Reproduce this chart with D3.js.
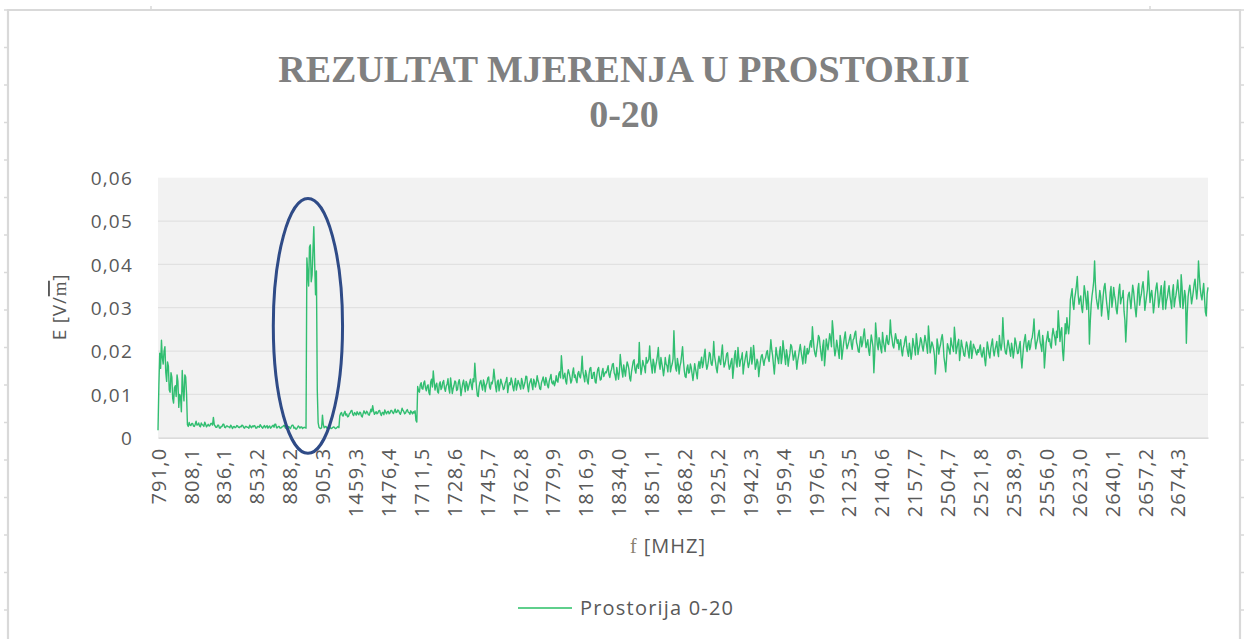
<!DOCTYPE html>
<html><head><meta charset="utf-8">
<script src="https://cdn.jsdelivr.net/npm/d3@7"></script>
<style>body{margin:0;background:#fff}svg{display:block}</style>
</head><body><svg id="c" width="1244" height="639"></svg>
<script>
// ---- data ----
const titleLines = ["REZULTAT MJERENJA U PROSTORIJI", "0-20"];
const seriesName = "Prostorija 0-20";
const tickLabels = ["791,0","808,1","836,1","853,2","888,2","905,3","1459,3","1476,4","1711,5","1728,6","1745,7","1762,8","1779,9","1816,9","1834,0","1851,1","1868,2","1925,2","1942,3","1959,4","1976,5","2123,5","2140,6","2157,7","2504,7","2521,8","2538,9","2556,0","2623,0","2640,1","2657,2","2674,3"];
const pointsPerTick = 38;   // measurement points between two labelled categories
const stepMHz = 0.45;
const yTicks = [0, 0.01, 0.02, 0.03, 0.04, 0.05, 0.06];
// E values in units of 0.0001 V/m
const segA = [17,120,195,160,225,185,170,200,210,150,
  130,175,165,110,105,150,140,90,80,115,
  120,95,145,130,70,100,95,60,155,110,
  85,145,140,100];
const segB = [30,26,35,29,28,33,33,27,26,31, 38,29,30,34,27,25,34,30,29,26,
  36,31,25,28,31,27,28,33,33,29, 47,30,27,24,24,29,29,22,22,26,
  26,31,31,24,23,27,27,25,25,23, 29,26,21,25,26,23,24,28,27,24,
  23,26,25,29,28,23,22,26,26,24, 24,22,29,25,23,27,25,28,27,22,
  22,26,26,24,30,27,24,22,26,28, 23,25,28,22,25,27,22,24,27,29,
  24,31,31,23,23,26,26,22,22,25, 25,28,28,23,21,24,24,26,23,21,
  26,29,29,22,24,20,20,23,27,25, 22,25,25,21,23,24,23,22];
const segC = [415,380,350,440,445,360,375,430,487,400,330,385,110,35];
const segD = [24,22,21,23,52,30,23,25,26,22,22,24,25,23,21,22,24,25,23,21,22,24,26,23];
const segE = [50,56,58,51,50,57,61,52,55,48, 49,55,57,62,63,54,51,58,56,52,
  60,55,53,59,58,50,48,56,62,57, 55,61,59,53,52,58,66,60,74,62,
  54,57,60,55,57,62,63,56,51,58, 58,53,64,59,55,60,61,55,57,63,
  63,58,56,61,66,58,59,64,62,57, 54,60,68,63,60,55,57,62,65,59,
  58,54,62,59,55,60,57,62,40,36];
const segF = [118,108,105,122,127,113,112,126,131,115, 108,119,122,104,99,128,135,117,154,130,
  110,121,126,106,103,124,129,111,116,128, 132,114,107,119,124,136,113,103,138,120,
  102,113,121,131,128,109,111,127,134,120, 97,112,125,133,118,106,130,124,109,118,
  127,135,120,111,136,129,172,141,115,97, 95,118,128,132,119,110,133,125,106,121,
  126,138,140,117,112,128,124,134,158,139, 117,106,129,133,108,120,135,127,121,111,
  114,125,131,139,104,118,127,122,138,130, 116,108,125,137,110,121,132,126,119,112,
  137,129,113,120,128,142,141,119,106,124, 130,136,122,111,135,129,117,126,143,132,
  125,113,111,127,133,140,128,121,139,130, 120,115,131,138,146,127,124,131,120,127];
const segG = [143,131,128,147,152,138,189,162,136,141, 149,130,124,146,157,149,140,126,132,151,
  161,139,145,133,127,148,153,142,138,155, 188,150,141,129,155,146,130,124,148,160,
  162,137,137,150,151,129,126,145,158,162, 144,133,135,152,160,141,147,152];
const segH = [150,158,166,145,139,152,158,170,171,150, 144,133,162,149,135,152,192,171,153,140,
  168,155,142,161,175,168,158,137,131,152, 164,176,180,157,149,166,170,160,220,171,
  146,159,178,169,163,150,185,172,176,181];
const segI = [212,180,165,149,181,172,150,166,176,190, 208,171,158,185,172,160,143,159,185,170,
  166,152,178,191,152,163,170,182,247,189, 161,154,183,170,147,165,174,192,210,177,
  155,141,139,160,168,149,151,170,162,147, 132,150,171,158,148,136,165,176];
const segJ = [160,175,186,162,171,190,204,173,158,166, 179,197,193,171,167,182,222,188,175,160,
  150,172,188,176,169,195,214,181,163,170, 181,194,196,171,158,164,176,183,137,159,
  189,201,172,163,208,185,165,178,184,196, 147,166,178,190,199,175,162,171,186,208,
  170,182,213,191,158,166,181,174,141,160, 176,189,192,178,167,180];
const segK = [185,197,201,183,176,199,226,204,190,168, 147,175,208,193,182,171,198,210,171,186,
  224,205,187,169,203,190,165,182,194,215, 211,196,179,188,200,184,158,177,189,203,
  215,198,184,170,197,211,172,189,206,193];
const segL = [198,214,224,209,256,228,205,193,187,204, 219,236,231,210,193,178,212,225,166,190,
  228,215,203,221,240,229,210,270,248,210, 189,201,225,212,198,183,236,222,181,199,
  217,232,244,219,205,213];
const segM = [221,230,238,214,204,226,229,241,246,220, 212,199,197,222,233,210,219,237,251,226,
  208,217,226,201,190,215,237,224,209,150, 192,265,238,214,203,231,222,205,196,243,
  222,210,199,225,236,218,215,230,272,241, 228,212,207,224,240,229,218,226];
const segN = [203,218,226,201,189,207,214,228,234,210, 197,188,218,203,181,195,229,216,206,191,
  240,222,192,205,215,231,224,209,200,218, 236,224,211,195,258,232,196,208,221,214,
  205,190,147,172,228,215,193,207,215,229, 238,220,186,171,152,183,217,209,201,193,
  230,216,208,199,255,231,194,206,219,227, 178,196,225,213,203,190,188,207,221,212,
  197,184,212,223,183,198,216,209,205,196, 191,203];
const segO = [197,206,214,193,186,199,208,181,166,192, 221,209,193,184,205,217,228,201,189,203,
  212,222,198,187,236,215,202,219,277,233, 209,196,193,211,225,214,201,188,218,206,
  184,199,230,221,207,194,196,212,222,185, 161,188,213,227,238,210,199,218,224,203,
  210,226,232,248,274,229,205,218,226,239, 248,221,212,199,236,219,161,190,219,231,
  245,222,228,213,207,236,252,240,231,214, 246,231,293,258,222,244,254,201,178,215,
  263,240,277,255,240,262];
const segP = [318,331,344,309,296,322,335,351,372,330, 308,319,327,301,289,315,351,337,316,296,
  338,309,216,268,305,327,342,361,408,352, 322,309,297,318,340,326,281,303,329,348,
  356,331,310,292,273,301,334,349,301,318, 347,329,318,296,286,312,339,354,309,321,
  325,340,292,271,221,263,314,330,336,317, 298,325,352,339,317,296,279,308,343,356,
  306,322,331,349,360,337,294,310,326,341, 385,352,312,330,340,318,288,306,329,347,
  357,334,301,315,335,351,318,296,346,361, 297,315,324,339,351,328,313,298,338,353,
  302,318,329,344,364,340,317,301,376,349, 298,315,340,326,218,287,325,341,352,333,
  309,322,337,355,366,341,320,345,408,372, 345,328,318,337,356,322,290,281,332,347];
// highlighted region (ellipse) in data units: category index and E range
const highlight = {fromIdx: 133.2, toIdx: 213.2, minE: -0.0036, maxE: 0.0552};

const values = [].concat(segA,segB,segC,segD,segE,segF,segG,segH,segI,segJ,segK,segL,segM,segN,segO,segP).map(v => v / 10000);

// categories (frequency labels) for every measurement point
const categories = [];
tickLabels.forEach((lab, i) => {
  const f = +lab.replace(",", ".");
  const n = i < tickLabels.length - 1 ? pointsPerTick : values.length - i * pointsPerTick;
  for (let j = 0; j < n; j++) categories.push(j === 0 ? lab : (f + j * stepMHz).toFixed(2).replace(".", ","));
});

// ---- drawing ----
const svg = d3.select("#c");
const W = 1244, H = 639;
const plot = {left: 158, right: 1208, top: 177.7, bottom: 437.7};
const grey = "#595959";
const green = "#00b050";
const sans = "'Open Sans', sans-serif";

// outer frame
const frame = svg.append("g").attr("stroke", "#d9d9d9").attr("fill", "none");
frame.append("path").attr("stroke-width", 2.2).attr("d", `M8,${H} V10 H1240 V${H}`);
const sideTicks = d3.range(10, H, 37.5);
frame.selectAll(".lt").data(sideTicks).join("line").attr("x1", 4).attr("x2", 8).attr("y1", d => d).attr("y2", d => d).attr("stroke-width", 1.5);
frame.selectAll(".rt").data(sideTicks).join("line").attr("x1", 1240).attr("x2", 1244).attr("y1", d => d).attr("y2", d => d).attr("stroke-width", 1.5);
frame.selectAll(".tt").data([151, 1150]).join("line").attr("x1", d => d).attr("x2", d => d).attr("y1", 6).attr("y2", 10).attr("stroke-width", 1.5);

// title
svg.append("g").selectAll("text").data(titleLines).join("text")
  .attr("x", 624).attr("y", (d, i) => 82 + i * 45)
  .attr("text-anchor", "middle")
  .style("font-family", "'Liberation Serif', 'Times New Roman', serif")
  .style("font-weight", "bold").style("font-size", "38px")
  .attr("fill", "#808080").text(d => d);

const x = d3.scalePoint().domain(categories).range([plot.left, plot.right]);
const y = d3.scaleLinear().domain([0, 0.06]).range([plot.bottom, plot.top]);

// plot area
svg.append("rect").attr("x", plot.left).attr("y", plot.top)
  .attr("width", plot.right - plot.left).attr("height", plot.bottom - plot.top)
  .attr("fill", "#f2f2f2");

// gridlines
svg.append("g").selectAll("line").data(yTicks.filter(d => d > 0 && d < 0.06)).join("line")
  .attr("x1", plot.left).attr("x2", plot.right)
  .attr("y1", d => y(d)).attr("y2", d => y(d))
  .attr("stroke", "#e1e1e1").attr("stroke-width", 1.3);

// y axis
const yAxis = svg.append("g").attr("transform", `translate(${plot.left - 25},0)`)
  .call(d3.axisLeft(y).tickValues(yTicks).tickSize(0)
    .tickFormat(d => d === 0 ? "0" : d3.format(".2f")(d).replace(".", ",")));
yAxis.select(".domain").remove();
yAxis.selectAll("text").attr("x", 0).attr("fill", grey).attr("dy", "0.36em")
  .style("font-family", sans).style("font-size", "19px").style("letter-spacing", "1.2px");

// x axis
const xAxis = svg.append("g").attr("transform", `translate(0,${plot.bottom})`)
  .call(d3.axisBottom(x).tickValues(tickLabels).tickSize(0));
xAxis.select(".domain").attr("stroke", "#cfcfcf").attr("stroke-width", 1.3);
xAxis.selectAll("text")
  .attr("transform", "rotate(-90)").attr("x", -10).attr("y", 0).attr("dy", "0.36em")
  .style("text-anchor", "end").attr("fill", grey)
  .style("font-family", sans).style("font-size", "20px").style("letter-spacing", "1.2px");

// series line
const line = d3.line().x((d, i) => x(categories[i])).y(d => y(d));
svg.append("path").datum(values).attr("d", line)
  .attr("fill", "none").attr("stroke", green).attr("stroke-width", 1.4)
  .attr("stroke-linejoin", "round").attr("opacity", 0.8);

// highlight ellipse
const step = x.step();
const cx = plot.left + (highlight.fromIdx + highlight.toIdx) / 2 * step;
const rx = (highlight.toIdx - highlight.fromIdx) / 2 * step;
svg.append("ellipse")
  .attr("cx", cx).attr("cy", (y(highlight.minE) + y(highlight.maxE)) / 2)
  .attr("rx", rx).attr("ry", (y(highlight.minE) - y(highlight.maxE)) / 2)
  .attr("fill", "none").attr("stroke", "#2f4b87").attr("stroke-width", 3);

// axis titles
const yTitle = svg.append("text").attr("transform", "translate(66,307) rotate(-90)")
  .attr("text-anchor", "middle").attr("fill", grey)
  .style("font-family", sans).style("font-size", "19px").style("letter-spacing", "0.8px");
yTitle.append("tspan").text("E [V/");
yTitle.append("tspan").text("m").style("font-family", "'Liberation Serif', serif").style("text-decoration", "overline");
yTitle.append("tspan").text("]");

const xTitle = svg.append("text").attr("x", 668).attr("y", 553)
  .attr("text-anchor", "middle").attr("fill", grey)
  .style("font-family", sans).style("font-size", "20px").style("letter-spacing", "1px");
xTitle.append("tspan").text("f").style("font-family", "'Liberation Serif', serif").attr("fill", "#8a7f70");
xTitle.append("tspan").text("  [MHZ]");

// legend
const lg = svg.append("g");
lg.append("line").attr("x1", 518).attr("x2", 572).attr("y1", 608).attr("y2", 608)
  .attr("stroke", "#5fcf8c").attr("stroke-width", 2);
lg.append("text").attr("x", 580).attr("y", 615).attr("fill", grey)
  .style("font-family", sans).style("font-size", "20px").style("letter-spacing", "1.2px").text(seriesName);
</script></body></html>
